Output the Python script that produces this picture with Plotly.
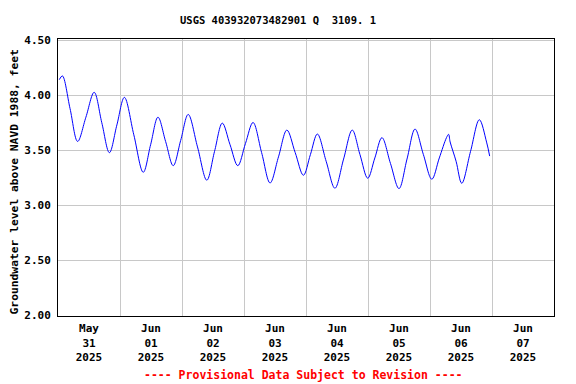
import plotly.graph_objects as go

# Timestamps (peaks, troughs, mid-crossings) and levels in feet
times = [
    "2025-05-31 00:30", "2025-05-31 01:42", "2025-05-31 04:39", "2025-05-31 07:36",
    "2025-05-31 10:48", "2025-05-31 14:00", "2025-05-31 16:57", "2025-05-31 19:54",
    "2025-05-31 22:48", "2025-06-01 01:42", "2025-06-01 05:21", "2025-06-01 09:00",
    "2025-06-01 11:51", "2025-06-01 14:42", "2025-06-01 17:39", "2025-06-01 20:36",
    "2025-06-01 23:30", "2025-06-02 02:24", "2025-06-02 06:00", "2025-06-02 09:36",
    "2025-06-02 12:36", "2025-06-02 15:36", "2025-06-02 18:36", "2025-06-02 21:36",
    "2025-06-03 00:33", "2025-06-03 03:30", "2025-06-03 06:48", "2025-06-03 10:06",
    "2025-06-03 13:21", "2025-06-03 16:36", "2025-06-03 19:48", "2025-06-03 23:00",
    "2025-06-04 01:42", "2025-06-04 04:24", "2025-06-04 07:48", "2025-06-04 11:12",
    "2025-06-04 14:33", "2025-06-04 17:54", "2025-06-04 20:54", "2025-06-04 23:54",
    "2025-06-05 02:39", "2025-06-05 05:24", "2025-06-05 08:42", "2025-06-05 12:00",
    "2025-06-05 15:06", "2025-06-05 18:12", "2025-06-05 21:27", "2025-06-06 00:42",
    "2025-06-06 03:36", "2025-06-06 06:24", "2025-06-06 07:12", "2025-06-06 07:48",
    "2025-06-06 10:06", "2025-06-06 12:18", "2025-06-06 15:42", "2025-06-06 19:06",
    "2025-06-06 21:54", "2025-06-06 23:06",
]
levels = [
    4.141, 4.175, 3.88, 3.58,
    3.80, 4.026, 3.75, 3.478,
    3.73, 3.98, 3.64, 3.30,
    3.55, 3.80, 3.58, 3.36,
    3.59, 3.825, 3.53, 3.228,
    3.49, 3.746, 3.55, 3.36,
    3.56, 3.752, 3.48, 3.203,
    3.44, 3.683, 3.48, 3.273,
    3.46, 3.647, 3.40, 3.155,
    3.42, 3.683, 3.46, 3.246,
    3.43, 3.614, 3.38, 3.152,
    3.42, 3.692, 3.46, 3.237,
    3.43, 3.615, 3.644, 3.575,
    3.40, 3.20, 3.49, 3.777,
    3.574, 3.447,
]

tick_vals = ["2025-05-31 12:00", "2025-06-01 12:00", "2025-06-02 12:00", "2025-06-03 12:00",
             "2025-06-04 12:00", "2025-06-05 12:00", "2025-06-06 12:00", "2025-06-07 12:00"]
tick_text = ["May<br>31<br>2025", "Jun<br>01<br>2025", "Jun<br>02<br>2025", "Jun<br>03<br>2025",
             "Jun<br>04<br>2025", "Jun<br>05<br>2025", "Jun<br>06<br>2025", "Jun<br>07<br>2025"]
y_ticks = [2.00, 2.50, 3.00, 3.50, 4.00, 4.50]
y_tick_text = ["2.00", "2.50", "3.00", "3.50", "4.00", "4.50"]

title_text = "USGS 403932073482901 Q  3109. 1"
y_title = "Groundwater level above NAVD 1988, feet"
footer = "---- Provisional Data Subject to Revision ----"

FONT = "DejaVu Sans Mono"

fig = go.Figure()
fig.add_trace(go.Scatter(
    x=times, y=levels, mode="lines",
    line=dict(color="#0000ff", width=1, shape="spline", smoothing=1.0),
    hoverinfo="x+y", showlegend=False,
))

# the page is shown with an 8px body margin, so the figure is sized to fit inside it
fig.update_layout(
    width=568, height=376,
    margin=dict(l=50, r=22, t=31, b=68, autoexpand=False),
    paper_bgcolor="white", plot_bgcolor="white",
    font=dict(family=FONT, size=11, color="black", weight="bold"),
    xaxis=dict(
        type="date",
        range=["2025-05-31 00:00", "2025-06-08 00:00"],
        tickmode="array", tickvals=tick_vals, ticktext=tick_text,
        showgrid=False, ticks="", zeroline=False, ticklabelstandoff=2,
        showline=True, linecolor="black", linewidth=1, mirror=True,
        tickfont=dict(family=FONT, size=11, color="black", weight="bold"),
        minor=dict(showgrid=True, gridcolor="#c8c8c8", gridwidth=1,
                   tick0="2025-05-31 00:00", dtick=86400000, ticks=""),
    ),
    yaxis=dict(
        range=[1.995, 4.51],
        tickmode="array", tickvals=y_ticks, ticktext=y_tick_text,
        showgrid=True, gridcolor="#c8c8c8", gridwidth=1,
        ticks="", zeroline=False, ticklabelstandoff=4,
        showline=True, linecolor="black", linewidth=1, mirror=True,
        tickfont=dict(family=FONT, size=11, color="black", weight="bold"),
    ),
    annotations=[
        dict(text=title_text, xref="paper", yref="paper", x=0.4435, y=1.0686,
             showarrow=False, xanchor="center", yanchor="middle",
             font=dict(family=FONT, size=10.5, color="black", weight="bold")),
        dict(text=y_title, xref="paper", yref="paper", x=-0.0877, y=0.484,
             showarrow=False, xanchor="center", yanchor="middle", textangle=-90,
             borderpad=0,
             font=dict(family=FONT, size=11.3, color="black", weight="bold")),
        dict(text=footer, xref="paper", yref="paper", x=0.494, y=-0.213,
             showarrow=False, xanchor="center", yanchor="middle",
             font=dict(family=FONT, size=11.5, color="red", weight="bold")),
    ],
)

fig.write_html("out.html")
